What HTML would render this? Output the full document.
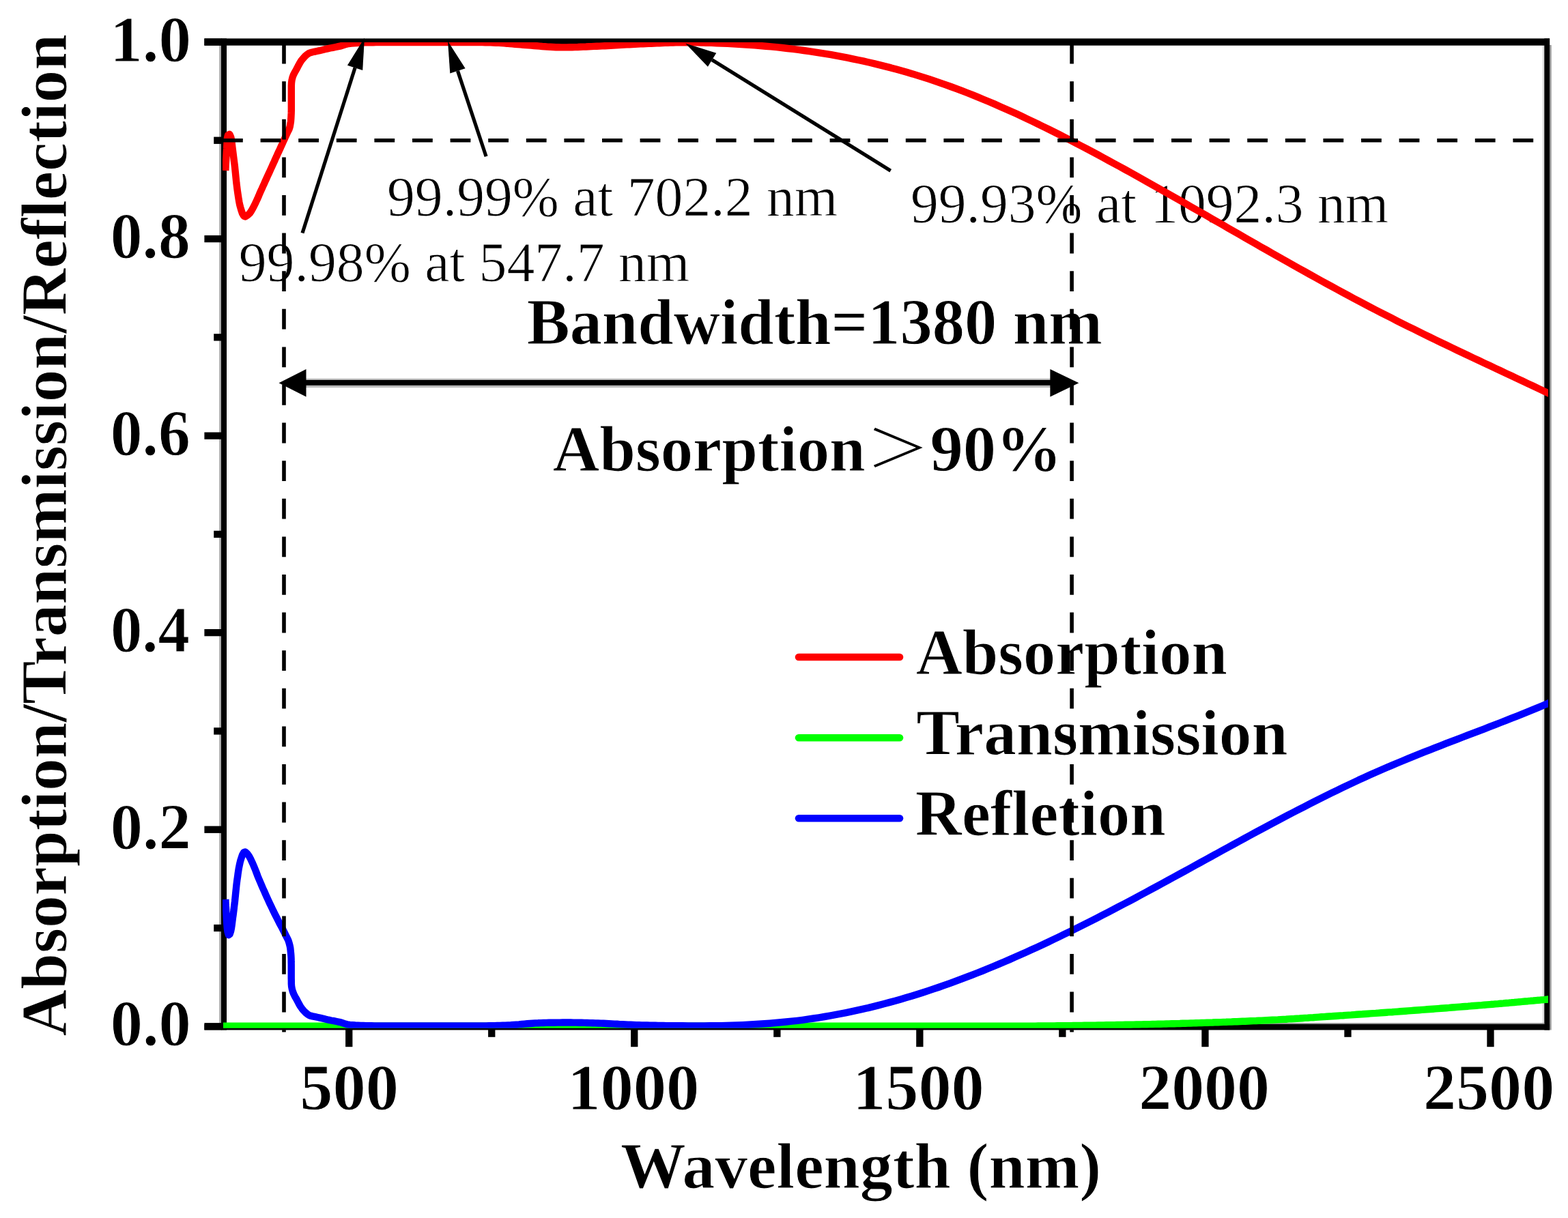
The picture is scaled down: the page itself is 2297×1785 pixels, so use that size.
<!DOCTYPE html>
<html lang="en"><head><meta charset="utf-8"><title>Absorption / Transmission / Reflection spectrum</title>
<style>
html,body{margin:0;padding:0;background:#fff;}
body{width:2297px;height:1785px;overflow:hidden;}
svg{display:block;}
text{font-family:"Liberation Serif","Noto Serif CJK SC",serif;fill:#000;}
.b{font-weight:bold;font-size:94.6px;stroke:#fff;stroke-width:1px;}
.r{font-weight:normal;font-size:82.3px;stroke:#fff;stroke-width:0.9px;}
.gt{font-family:"Noto Serif CJK SC","Liberation Serif",serif;font-weight:700;font-size:94.6px;}
</style></head><body>
<svg xmlns="http://www.w3.org/2000/svg" width="2297" height="1785" viewBox="0 0 2297 1785">
<rect width="2297" height="1785" fill="#fff"/>
<defs><clipPath id="plot"><rect x="326" y="62" width="1942" height="1444.8"/></clipPath></defs>

<g fill="#000">
<rect x="321.2" y="66" width="3" height="1434" fill="#aaa"/>
<rect x="331.8" y="66.5" width="2.4" height="1433" fill="#eee"/>
<rect x="2270" y="66" width="2.7" height="1443.5" fill="#999"/>
<rect x="2259.6" y="66.5" width="2.8" height="1433" fill="#ddd"/>
<rect x="332" y="1499.2" width="1930" height="2" fill="#888"/>
<rect x="324" y="56.4" width="8" height="1453.1"/>
<rect x="2262.3" y="56.4" width="7.8" height="1453.1"/>
<rect x="299.4" y="56.4" width="1970.7" height="10.3"/>
<rect x="299.4" y="1501.0" width="1970.7" height="8.5"/>
<rect x="299.4" y="1499.1" width="25.6" height="10.3"/>
<rect x="313.2" y="1354.9" width="11.8" height="10.3"/>
<rect x="299.4" y="1210.6" width="25.6" height="10.3"/>
<rect x="313.2" y="1066.3" width="11.8" height="10.3"/>
<rect x="299.4" y="922.0" width="25.6" height="10.3"/>
<rect x="313.2" y="777.8" width="11.8" height="10.3"/>
<rect x="299.4" y="633.5" width="25.6" height="10.3"/>
<rect x="313.2" y="489.2" width="11.8" height="10.3"/>
<rect x="299.4" y="344.9" width="25.6" height="10.3"/>
<rect x="313.2" y="200.6" width="11.8" height="10.3"/>
<rect x="299.4" y="56.4" width="25.6" height="10.3"/>
<rect x="506.1" y="1505" width="10.3" height="29.2"/>
<rect x="715.1" y="1505" width="10.3" height="14.8"/>
<rect x="924.1" y="1505" width="10.3" height="29.2"/>
<rect x="1133.2" y="1505" width="10.3" height="14.8"/>
<rect x="1342.2" y="1505" width="10.3" height="29.2"/>
<rect x="1551.2" y="1505" width="10.3" height="14.8"/>
<rect x="1760.3" y="1505" width="10.3" height="29.2"/>
<rect x="1969.3" y="1505" width="10.3" height="14.8"/>
<rect x="2178.3" y="1505" width="10.3" height="29.2"/>
</g>
<text class="r" transform="translate(567.02 315.6) scale(0.9929 1)">99.99% at 702.2 nm</text>
<text class="r" transform="translate(349.72 411.9) scale(0.9933 1)">99.98% at 547.7 nm</text>
<text class="r" transform="translate(1334.03 326.4) scale(0.9914 1)">99.93% at 1092.3 nm</text>
<text class="b" transform="translate(1341.70 988.4) scale(0.9978 1)">Absorption</text>
<text class="b" transform="translate(1342.28 1106.0) scale(1.0088 1)">Transmission</text>
<text class="b" transform="translate(1340.70 1223.5) scale(0.9981 1)">Refletion</text>
<text class="b" transform="translate(909.08 1741.3) scale(1.0113 1)">Wavelength (nm)</text>
<text class="b" transform="translate(771.70 504.3) scale(0.9977 1)">Bandwidth=1380 nm</text>
<text class="b" transform="translate(439.22 1625.7) scale(1.0201 1)">500</text>
<text class="b" transform="translate(831.13 1625.7) scale(1.0209 1)">1000</text>
<text class="b" transform="translate(1249.16 1625.7) scale(1.0181 1)">1500</text>
<text class="b" transform="translate(1668.25 1625.7) scale(1.0133 1)">2000</text>
<text class="b" transform="translate(2084.93 1625.7) scale(1.0166 1)">2500</text>
<text class="b" transform="translate(809.80 689.8) scale(1.0015 1)">Absorption</text>
<text class="b" transform="translate(1362.44 689.8) scale(1.0209 1)">90%</text>
<text class="b" transform="translate(161.81 1532.4) scale(0.9982 1)">0.0</text>
<text class="b" transform="translate(161.81 1243.8) scale(0.9982 1)">0.2</text>
<text class="b" transform="translate(161.88 955.3) scale(0.9804 1)">0.4</text>
<text class="b" transform="translate(161.84 666.7) scale(0.9892 1)">0.6</text>
<text class="b" transform="translate(161.84 378.2) scale(0.9892 1)">0.8</text>
<text class="b" transform="translate(161.17 89.6) scale(1.0038 1)">1.0</text>
<g clip-path="url(#plot)" fill="none" stroke-linejoin="round" stroke-linecap="butt">
<path d="M327.0,1503.8 L331.0,1503.8 L335.0,1503.8 L339.0,1503.8 L343.0,1503.8 L347.0,1503.8 L351.0,1503.8 L354.9,1503.8 L358.9,1503.8 L362.9,1503.8 L366.9,1503.8 L370.9,1503.8 L374.9,1503.8 L378.9,1503.8 L382.9,1503.8 L386.9,1503.8 L390.9,1503.8 L394.9,1503.8 L398.9,1503.8 L402.9,1503.8 L406.9,1503.8 L410.8,1503.8 L414.8,1503.8 L418.8,1503.8 L422.8,1503.8 L426.8,1503.8 L430.8,1503.8 L434.8,1503.8 L438.8,1503.8 L442.8,1503.8 L446.8,1503.8 L450.8,1503.8 L454.8,1503.8 L458.8,1503.8 L462.7,1503.8 L466.7,1503.8 L470.7,1503.8 L474.7,1503.8 L478.7,1503.8 L482.7,1503.8 L486.7,1503.8 L490.7,1503.8 L494.7,1503.8 L498.7,1503.8 L502.7,1503.8 L506.7,1503.8 L510.7,1503.8 L514.7,1503.8 L518.6,1503.8 L522.6,1503.8 L526.6,1503.8 L530.6,1503.8 L534.6,1503.8 L538.6,1503.8 L542.6,1503.8 L546.6,1503.8 L550.6,1503.8 L554.6,1503.8 L558.6,1503.8 L562.6,1503.8 L566.6,1503.8 L570.5,1503.8 L574.5,1503.8 L578.5,1503.8 L582.5,1503.8 L586.5,1503.8 L590.5,1503.8 L594.5,1503.8 L598.5,1503.8 L602.5,1503.8 L606.5,1503.8 L610.5,1503.8 L614.5,1503.8 L618.5,1503.8 L622.4,1503.8 L626.4,1503.8 L630.4,1503.8 L634.4,1503.8 L638.4,1503.8 L642.4,1503.8 L646.4,1503.8 L650.4,1503.8 L654.4,1503.8 L658.4,1503.8 L662.4,1503.8 L666.4,1503.8 L670.4,1503.8 L674.3,1503.8 L678.3,1503.8 L682.3,1503.8 L686.3,1503.8 L690.3,1503.8 L694.3,1503.8 L698.3,1503.8 L702.3,1503.8 L706.3,1503.8 L710.3,1503.8 L714.3,1503.8 L718.3,1503.8 L722.3,1503.8 L726.3,1503.8 L730.2,1503.8 L734.2,1503.8 L738.2,1503.8 L742.2,1503.8 L746.2,1503.8 L750.2,1503.8 L754.2,1503.8 L758.2,1503.8 L762.2,1503.8 L766.2,1503.8 L770.2,1503.8 L774.2,1503.8 L778.2,1503.8 L782.1,1503.8 L786.1,1503.8 L790.1,1503.8 L794.1,1503.8 L798.1,1503.8 L802.1,1503.8 L806.1,1503.8 L810.1,1503.8 L814.1,1503.8 L818.1,1503.8 L822.1,1503.8 L826.1,1503.8 L830.1,1503.8 L834.0,1503.8 L838.0,1503.8 L842.0,1503.8 L846.0,1503.8 L850.0,1503.8 L854.0,1503.8 L858.0,1503.8 L862.0,1503.8 L866.0,1503.8 L870.0,1503.8 L874.0,1503.8 L878.0,1503.8 L882.0,1503.8 L885.9,1503.8 L889.9,1503.8 L893.9,1503.8 L897.9,1503.8 L901.9,1503.8 L905.9,1503.8 L909.9,1503.8 L913.9,1503.8 L917.9,1503.8 L921.9,1503.8 L925.9,1503.8 L929.9,1503.8 L933.9,1503.8 L937.8,1503.8 L941.8,1503.8 L945.8,1503.8 L949.8,1503.8 L953.8,1503.8 L957.8,1503.8 L961.8,1503.8 L965.8,1503.8 L969.8,1503.8 L973.8,1503.8 L977.8,1503.8 L981.8,1503.8 L985.8,1503.8 L989.7,1503.8 L993.7,1503.8 L997.7,1503.8 L1001.7,1503.8 L1005.7,1503.8 L1009.7,1503.8 L1013.7,1503.7 L1017.7,1503.7 L1021.7,1503.7 L1025.7,1503.7 L1029.7,1503.7 L1033.7,1503.7 L1037.7,1503.7 L1041.6,1503.7 L1045.6,1503.7 L1049.6,1503.7 L1053.6,1503.7 L1057.6,1503.7 L1061.6,1503.7 L1065.6,1503.7 L1069.6,1503.7 L1073.6,1503.7 L1077.6,1503.7 L1081.6,1503.7 L1085.6,1503.7 L1089.6,1503.7 L1093.5,1503.7 L1097.5,1503.7 L1101.5,1503.7 L1105.5,1503.7 L1109.5,1503.7 L1113.5,1503.7 L1117.5,1503.7 L1121.5,1503.7 L1125.5,1503.7 L1129.5,1503.7 L1133.5,1503.7 L1137.5,1503.7 L1141.5,1503.7 L1145.4,1503.7 L1149.4,1503.7 L1153.4,1503.7 L1157.4,1503.7 L1161.4,1503.7 L1165.4,1503.7 L1169.4,1503.7 L1173.4,1503.7 L1177.4,1503.7 L1181.4,1503.7 L1185.4,1503.7 L1189.4,1503.7 L1193.4,1503.7 L1197.3,1503.7 L1201.3,1503.7 L1205.3,1503.7 L1209.3,1503.7 L1213.3,1503.7 L1217.3,1503.7 L1221.3,1503.7 L1225.3,1503.7 L1229.3,1503.7 L1233.3,1503.7 L1237.3,1503.7 L1241.3,1503.7 L1245.3,1503.7 L1249.2,1503.7 L1253.2,1503.7 L1257.2,1503.7 L1261.2,1503.7 L1265.2,1503.7 L1269.2,1503.7 L1273.2,1503.7 L1277.2,1503.7 L1281.2,1503.7 L1285.2,1503.7 L1289.2,1503.7 L1293.2,1503.7 L1297.2,1503.7 L1301.1,1503.7 L1305.1,1503.7 L1309.1,1503.7 L1313.1,1503.7 L1317.1,1503.7 L1321.1,1503.7 L1325.1,1503.7 L1329.1,1503.7 L1333.1,1503.7 L1337.1,1503.7 L1341.1,1503.7 L1345.1,1503.7 L1349.1,1503.7 L1353.0,1503.7 L1357.0,1503.7 L1361.0,1503.7 L1365.0,1503.7 L1369.0,1503.7 L1373.0,1503.7 L1377.0,1503.7 L1381.0,1503.6 L1385.0,1503.6 L1389.0,1503.6 L1393.0,1503.6 L1397.0,1503.6 L1400.9,1503.6 L1404.9,1503.6 L1408.9,1503.6 L1412.9,1503.6 L1416.9,1503.6 L1420.9,1503.6 L1424.9,1503.6 L1428.9,1503.6 L1432.9,1503.6 L1436.9,1503.6 L1440.9,1503.6 L1444.9,1503.6 L1448.9,1503.6 L1452.8,1503.6 L1456.8,1503.6 L1460.8,1503.6 L1464.8,1503.6 L1468.8,1503.6 L1472.8,1503.6 L1476.8,1503.6 L1480.8,1503.6 L1484.8,1503.6 L1488.8,1503.6 L1492.8,1503.6 L1496.8,1503.6 L1500.8,1503.6 L1504.7,1503.6 L1508.7,1503.6 L1512.7,1503.6 L1516.7,1503.6 L1520.7,1503.5 L1524.7,1503.5 L1528.7,1503.5 L1532.7,1503.5 L1536.7,1503.4 L1540.7,1503.4 L1544.7,1503.4 L1548.7,1503.3 L1552.7,1503.3 L1556.6,1503.2 L1560.6,1503.2 L1564.6,1503.1 L1568.6,1503.1 L1572.6,1503.0 L1576.6,1503.0 L1580.6,1502.9 L1584.6,1502.9 L1588.6,1502.8 L1592.6,1502.7 L1596.6,1502.7 L1600.6,1502.6 L1604.6,1502.6 L1608.5,1502.5 L1612.5,1502.4 L1616.5,1502.4 L1620.5,1502.3 L1624.5,1502.2 L1628.5,1502.2 L1632.5,1502.1 L1636.5,1502.0 L1640.5,1502.0 L1644.5,1501.9 L1648.5,1501.8 L1652.5,1501.8 L1656.4,1501.7 L1660.4,1501.6 L1664.4,1501.5 L1668.4,1501.5 L1672.4,1501.4 L1676.4,1501.3 L1680.4,1501.2 L1684.4,1501.1 L1688.4,1501.0 L1692.4,1500.9 L1696.4,1500.8 L1700.4,1500.7 L1704.3,1500.6 L1708.3,1500.5 L1712.3,1500.4 L1716.3,1500.3 L1720.3,1500.2 L1724.3,1500.1 L1728.3,1500.0 L1732.3,1499.8 L1736.3,1499.7 L1740.3,1499.6 L1744.3,1499.5 L1748.2,1499.4 L1752.2,1499.2 L1756.2,1499.1 L1760.2,1499.0 L1764.2,1498.9 L1768.2,1498.7 L1772.2,1498.6 L1776.2,1498.5 L1780.2,1498.3 L1784.2,1498.2 L1788.1,1498.1 L1792.1,1497.9 L1796.1,1497.8 L1800.1,1497.6 L1804.1,1497.5 L1808.1,1497.3 L1812.1,1497.2 L1816.1,1497.0 L1820.1,1496.8 L1824.0,1496.7 L1828.0,1496.5 L1832.0,1496.3 L1836.0,1496.1 L1840.0,1496.0 L1844.0,1495.8 L1848.0,1495.6 L1852.0,1495.4 L1856.0,1495.2 L1859.9,1495.0 L1863.9,1494.8 L1867.9,1494.6 L1871.9,1494.4 L1875.9,1494.1 L1879.9,1493.9 L1883.9,1493.7 L1887.8,1493.4 L1891.8,1493.2 L1895.8,1493.0 L1899.8,1492.7 L1903.8,1492.5 L1907.8,1492.2 L1911.7,1491.9 L1915.7,1491.7 L1919.7,1491.4 L1923.7,1491.2 L1927.7,1490.9 L1931.7,1490.6 L1935.7,1490.3 L1939.6,1490.1 L1943.6,1489.8 L1947.6,1489.5 L1951.6,1489.3 L1955.6,1489.0 L1959.6,1488.7 L1963.5,1488.4 L1967.5,1488.2 L1971.5,1487.9 L1975.5,1487.6 L1979.5,1487.4 L1983.5,1487.1 L1987.4,1486.8 L1991.4,1486.5 L1995.4,1486.3 L1999.4,1486.0 L2003.4,1485.7 L2007.3,1485.4 L2011.3,1485.1 L2015.3,1484.9 L2019.3,1484.6 L2023.3,1484.3 L2027.3,1484.0 L2031.2,1483.7 L2035.2,1483.4 L2039.2,1483.2 L2043.2,1482.9 L2047.2,1482.6 L2051.2,1482.3 L2055.1,1482.0 L2059.1,1481.7 L2063.1,1481.4 L2067.1,1481.1 L2071.1,1480.8 L2075.0,1480.5 L2079.0,1480.2 L2083.0,1479.9 L2087.0,1479.6 L2091.0,1479.3 L2094.9,1479.0 L2098.9,1478.7 L2102.9,1478.4 L2106.9,1478.1 L2110.9,1477.8 L2114.9,1477.5 L2118.8,1477.2 L2122.8,1476.9 L2126.8,1476.5 L2130.8,1476.2 L2134.8,1475.9 L2138.7,1475.6 L2142.7,1475.3 L2146.7,1475.0 L2150.7,1474.7 L2154.7,1474.3 L2158.6,1474.0 L2162.6,1473.7 L2166.6,1473.4 L2170.6,1473.1 L2174.5,1472.7 L2178.5,1472.4 L2182.5,1472.1 L2186.5,1471.8 L2190.5,1471.4 L2194.4,1471.1 L2198.4,1470.7 L2202.4,1470.4 L2206.4,1470.0 L2210.3,1469.7 L2214.3,1469.3 L2218.3,1469.0 L2222.3,1468.6 L2226.3,1468.3 L2230.2,1467.9 L2234.2,1467.5 L2238.2,1467.2 L2242.2,1466.8 L2246.1,1466.5 L2250.1,1466.1 L2254.1,1465.8 L2258.1,1465.4 L2262.0,1465.1 L2266.0,1464.7 L2270.0,1464.4" stroke="#00ff00" stroke-width="10.4"/>
<path d="M330.3,250.0 L330.5,246.0 L330.7,242.0 L331.0,238.0 L331.2,234.0 L331.4,230.0 L331.6,226.1 L331.8,222.1 L332.1,218.1 L332.3,214.1 L332.5,210.0 L332.7,205.9 L333.0,202.0 L334.0,198.0 L336.3,196.7 L338.2,200.9 L339.1,204.7 L339.6,208.7 L340.0,212.7 L340.5,216.7 L341.0,220.7 L341.5,224.7 L342.0,228.6 L342.5,232.6 L343.0,236.6 L343.5,240.5 L344.0,244.5 L344.4,248.5 L344.8,252.4 L345.2,256.4 L345.6,260.4 L346.0,264.4 L346.4,268.4 L346.9,272.3 L347.4,276.3 L347.9,280.2 L348.5,284.2 L349.1,288.2 L349.7,292.2 L350.4,296.2 L351.2,300.1 L352.2,303.9 L353.4,308.0 L355.0,312.7 L357.0,316.4 L359.3,317.4 L362.9,315.3 L365.9,312.5 L368.1,309.3 L370.1,305.7 L372.0,302.1 L373.8,298.5 L375.5,294.9 L377.2,291.3 L378.8,287.6 L380.3,283.9 L381.9,280.2 L383.6,276.6 L385.2,273.0 L386.9,269.3 L388.5,265.7 L390.2,262.0 L391.8,258.4 L393.5,254.8 L395.2,251.1 L396.8,247.5 L398.5,243.8 L400.1,240.2 L401.8,236.6 L403.4,232.9 L405.1,229.3 L406.7,225.7 L408.4,222.0 L410.1,218.4 L411.7,214.7 L413.4,211.1 L415.0,207.5 L416.7,203.8 L418.3,200.2 L420.0,196.6 L421.7,192.9 L423.5,189.3 L424.7,185.6 L425.4,181.6 L426.0,177.7 L426.3,173.7 L426.5,169.7 L426.7,165.7 L426.8,161.7 L426.8,157.7 L426.8,153.7 L426.8,149.7 L426.8,145.7 L426.8,141.7 L426.8,137.7 L426.8,133.7 L426.8,129.7 L426.8,125.7 L427.0,121.7 L427.5,117.7 L428.4,113.8 L429.7,110.1 L431.5,106.5 L433.5,103.0 L435.4,99.5 L437.2,95.9 L439.1,92.4 L441.2,89.0 L443.7,85.9 L446.4,82.9 L449.3,80.2 L452.6,77.9 L456.4,76.7 L460.3,75.8 L464.2,75.0 L468.1,74.2 L472.0,73.3 L475.9,72.3 L479.8,71.4 L483.7,70.5 L487.6,69.8 L491.6,69.0 L495.5,68.2 L499.4,67.4 L503.2,66.1 L507.0,64.8 L510.9,64.0 L514.8,63.6 L518.8,63.3 L522.8,63.1 L526.8,62.8 L530.8,62.4 L534.8,62.2 L538.8,62.2 L542.8,62.2 L546.8,62.2 L550.8,62.1 L554.8,62.1 L558.8,62.1 L562.8,62.1 L566.8,62.1 L570.8,62.1 L574.8,62.1 L578.7,62.1 L582.7,62.1 L586.7,62.1 L590.7,62.1 L594.7,62.1 L598.7,62.1 L602.7,62.1 L606.7,62.1 L610.7,62.1 L614.7,62.1 L618.7,62.1 L622.7,62.1 L626.7,62.1 L630.7,62.1 L634.7,62.1 L638.7,62.1 L642.7,62.1 L646.7,62.1 L650.7,62.1 L654.7,62.1 L658.7,62.1 L662.7,62.1 L666.7,62.1 L670.7,62.1 L674.7,62.1 L678.7,62.1 L682.7,62.1 L686.7,62.1 L690.7,62.1 L694.7,62.1 L698.7,62.1 L702.7,62.1 L706.7,62.1 L710.7,62.2 L714.7,62.3 L718.6,62.4 L722.6,62.5 L726.6,62.7 L730.6,62.9 L734.6,63.1 L738.6,63.4 L742.6,63.7 L746.6,64.1 L750.6,64.4 L754.5,64.8 L758.5,65.1 L762.5,65.4 L766.5,65.7 L770.5,66.0 L774.5,66.3 L778.5,66.6 L782.4,67.0 L786.4,67.3 L790.4,67.6 L794.4,68.0 L798.4,68.3 L802.4,68.6 L806.4,68.8 L810.4,69.0 L814.4,69.2 L818.3,69.3 L822.3,69.4 L826.3,69.4 L830.3,69.4 L834.3,69.3 L838.3,69.2 L842.3,69.1 L846.3,69.0 L850.3,68.8 L854.3,68.6 L858.3,68.5 L862.3,68.3 L866.3,68.1 L870.3,67.9 L874.3,67.7 L878.3,67.6 L882.3,67.4 L886.2,67.2 L890.2,67.0 L894.2,66.8 L898.2,66.6 L902.2,66.4 L906.2,66.1 L910.2,65.9 L914.2,65.6 L918.2,65.4 L922.2,65.2 L926.2,65.0 L930.1,64.8 L934.1,64.6 L938.1,64.4 L942.1,64.2 L946.1,64.0 L950.1,63.9 L954.1,63.7 L958.1,63.5 L962.1,63.3 L966.1,63.2 L970.1,63.0 L974.1,62.8 L978.1,62.7 L982.1,62.6 L986.1,62.5 L990.1,62.4 L994.1,62.3 L998.0,62.3 L1002.0,62.3 L1006.0,62.3 L1010.0,62.3 L1014.0,62.4 L1018.0,62.4 L1022.0,62.4 L1026.0,62.5 L1030.0,62.6 L1034.0,62.7 L1038.0,62.8 L1042.0,62.9 L1046.0,63.0 L1050.0,63.2 L1058.0,63.5 L1065.9,63.9 L1073.9,64.3 L1081.9,64.7 L1089.9,65.2 L1097.8,65.7 L1105.8,66.3 L1113.8,67.0 L1121.8,67.7 L1129.7,68.4 L1137.7,69.2 L1145.7,70.0 L1153.7,71.0 L1161.6,71.9 L1169.6,72.9 L1177.6,74.0 L1185.6,75.1 L1193.5,76.3 L1201.5,77.6 L1209.5,78.9 L1217.5,80.2 L1225.4,81.7 L1233.4,83.2 L1241.4,84.7 L1249.3,86.3 L1257.3,88.0 L1265.3,89.7 L1273.3,91.5 L1281.2,93.4 L1289.2,95.4 L1297.2,97.4 L1305.2,99.4 L1313.1,101.6 L1321.1,103.8 L1329.1,106.1 L1337.1,108.4 L1345.0,110.9 L1353.0,113.4 L1361.0,115.9 L1369.0,118.6 L1376.9,121.3 L1384.9,124.1 L1392.9,127.0 L1400.8,129.9 L1408.8,132.9 L1416.8,136.0 L1424.8,139.2 L1432.7,142.4 L1440.7,145.7 L1448.7,149.0 L1456.7,152.4 L1464.6,155.9 L1472.6,159.4 L1480.6,163.0 L1488.6,166.6 L1496.5,170.3 L1504.5,174.1 L1512.5,177.9 L1520.5,181.7 L1528.4,185.6 L1536.4,189.5 L1544.4,193.5 L1552.4,197.5 L1560.3,201.6 L1568.3,205.7 L1576.3,209.8 L1584.2,214.0 L1592.2,218.2 L1600.2,222.4 L1608.2,226.7 L1616.1,231.0 L1624.1,235.3 L1632.1,239.7 L1640.1,244.0 L1648.0,248.4 L1656.0,252.8 L1664.0,257.3 L1672.0,261.7 L1679.9,266.2 L1687.9,270.7 L1695.9,275.2 L1703.9,279.7 L1711.8,284.2 L1719.8,288.7 L1727.8,293.3 L1735.8,297.8 L1743.7,302.4 L1751.7,307.0 L1759.7,311.5 L1767.6,316.1 L1775.6,320.7 L1783.6,325.3 L1791.6,329.8 L1799.5,334.4 L1807.5,339.0 L1815.5,343.6 L1823.5,348.2 L1831.4,352.7 L1839.4,357.3 L1847.4,361.9 L1855.4,366.4 L1863.3,370.9 L1871.3,375.5 L1879.3,380.0 L1887.3,384.5 L1895.2,389.0 L1903.2,393.5 L1911.2,397.9 L1919.2,402.4 L1927.1,406.8 L1935.1,411.2 L1943.1,415.6 L1951.0,419.9 L1959.0,424.3 L1967.0,428.6 L1975.0,432.9 L1982.9,437.2 L1990.9,441.4 L1998.9,445.6 L2006.9,449.8 L2014.8,454.0 L2022.8,458.1 L2030.8,462.2 L2038.8,466.2 L2046.7,470.3 L2054.7,474.3 L2062.7,478.3 L2070.7,482.2 L2078.6,486.2 L2086.6,490.1 L2094.6,494.0 L2102.5,497.9 L2110.5,501.7 L2118.5,505.5 L2126.5,509.4 L2134.4,513.2 L2142.4,517.0 L2150.4,520.8 L2158.4,524.6 L2166.3,528.3 L2174.3,532.1 L2182.3,535.8 L2190.3,539.6 L2198.2,543.3 L2206.2,547.1 L2214.2,550.8 L2222.2,554.6 L2230.1,558.3 L2238.1,562.1 L2246.1,565.8 L2254.1,569.6 L2262.0,573.4 L2270.0,577.1" stroke="#ff0000" stroke-width="10.4"/>
<path d="M330.3,1318.0 L330.5,1322.0 L330.7,1326.0 L331.0,1330.0 L331.2,1334.0 L331.4,1338.0 L331.6,1342.0 L331.8,1346.0 L332.0,1349.9 L332.3,1353.9 L332.6,1357.9 L333.0,1361.9 L333.6,1365.9 L334.9,1370.3 L336.6,1369.1 L338.1,1364.6 L338.9,1360.8 L339.5,1356.8 L340.0,1352.8 L340.5,1348.8 L341.0,1344.9 L341.6,1340.9 L342.1,1336.9 L342.6,1333.0 L343.0,1329.0 L343.5,1325.0 L344.0,1321.1 L344.4,1317.1 L344.8,1313.1 L345.2,1309.1 L345.6,1305.1 L346.0,1301.2 L346.4,1297.2 L346.9,1293.2 L347.4,1289.2 L348.0,1285.3 L348.5,1281.3 L349.1,1277.3 L349.7,1273.3 L350.5,1269.3 L351.3,1265.4 L352.2,1261.6 L353.5,1257.5 L355.1,1252.8 L357.1,1249.2 L359.4,1248.4 L362.4,1251.3 L364.9,1254.8 L366.8,1258.2 L368.5,1261.9 L370.2,1265.5 L371.8,1269.2 L373.3,1272.9 L374.8,1276.6 L376.2,1280.4 L377.6,1284.1 L379.1,1287.8 L380.7,1291.5 L382.3,1295.2 L383.8,1298.9 L385.4,1302.5 L387.1,1306.2 L388.7,1309.8 L390.3,1313.5 L392.0,1317.1 L393.7,1320.8 L395.3,1324.4 L397.1,1328.0 L398.8,1331.6 L400.5,1335.2 L402.3,1338.8 L404.1,1342.4 L405.9,1345.9 L407.7,1349.5 L409.5,1353.0 L411.4,1356.6 L413.3,1360.1 L415.1,1363.7 L416.9,1367.2 L418.7,1370.8 L420.5,1374.4 L422.3,1378.0 L423.5,1381.8 L424.5,1385.6 L425.3,1389.6 L425.7,1393.5 L426.1,1397.5 L426.4,1401.5 L426.6,1405.5 L426.6,1409.5 L426.7,1413.5 L426.7,1417.5 L426.7,1421.5 L426.7,1425.5 L426.7,1429.5 L426.7,1433.5 L426.8,1437.5 L426.8,1441.5 L427.1,1445.5 L427.8,1449.4 L428.9,1453.3 L430.4,1457.0 L432.2,1460.6 L434.2,1464.0 L436.1,1467.6 L437.9,1471.1 L439.9,1474.6 L442.2,1477.9 L444.7,1481.0 L447.5,1483.9 L450.6,1486.4 L454.0,1488.4 L457.9,1489.4 L461.8,1490.2 L465.7,1491.0 L469.6,1491.9 L473.5,1492.8 L477.4,1493.8 L481.3,1494.7 L485.2,1495.5 L489.1,1496.2 L493.1,1497.0 L497.0,1497.8 L500.9,1498.8 L504.7,1500.1 L508.5,1501.3 L512.4,1501.9 L516.4,1502.2 L520.4,1502.5 L524.4,1502.7 L528.4,1502.9 L532.4,1503.0 L536.4,1503.1 L540.4,1503.2 L544.4,1503.3 L548.4,1503.4 L552.4,1503.5 L556.4,1503.5 L560.4,1503.5 L564.4,1503.5 L568.4,1503.5 L572.4,1503.5 L576.4,1503.5 L580.4,1503.5 L584.4,1503.5 L588.4,1503.5 L592.4,1503.5 L596.4,1503.5 L600.4,1503.5 L604.4,1503.5 L608.4,1503.5 L612.4,1503.5 L616.3,1503.5 L620.3,1503.5 L624.3,1503.5 L628.3,1503.5 L632.3,1503.5 L636.3,1503.5 L640.3,1503.5 L644.3,1503.5 L648.3,1503.5 L652.3,1503.5 L656.3,1503.5 L660.3,1503.5 L664.3,1503.5 L668.3,1503.5 L672.3,1503.5 L676.3,1503.5 L680.3,1503.5 L684.3,1503.5 L688.3,1503.5 L692.3,1503.5 L696.3,1503.5 L700.3,1503.5 L704.3,1503.5 L708.3,1503.5 L712.3,1503.4 L716.3,1503.3 L720.3,1503.2 L724.3,1503.1 L728.3,1503.0 L732.3,1502.9 L736.3,1502.8 L740.3,1502.7 L744.3,1502.5 L748.3,1502.3 L752.3,1502.0 L756.3,1501.7 L760.2,1501.4 L764.2,1501.0 L768.2,1500.6 L772.2,1500.3 L776.2,1500.0 L780.2,1499.7 L784.2,1499.4 L788.2,1499.3 L792.2,1499.1 L796.2,1499.0 L800.1,1498.9 L804.1,1498.8 L808.1,1498.8 L812.1,1498.7 L816.1,1498.6 L820.1,1498.6 L824.1,1498.5 L828.1,1498.5 L832.1,1498.5 L836.1,1498.5 L840.1,1498.6 L844.1,1498.6 L848.1,1498.7 L852.1,1498.8 L856.1,1498.9 L860.1,1499.0 L864.1,1499.1 L868.1,1499.2 L872.1,1499.4 L876.1,1499.5 L880.1,1499.6 L884.1,1499.8 L888.1,1500.0 L892.1,1500.2 L896.1,1500.4 L900.1,1500.6 L904.1,1500.8 L908.1,1501.1 L912.1,1501.3 L916.1,1501.5 L920.0,1501.7 L924.0,1501.8 L928.0,1502.0 L932.0,1502.2 L936.0,1502.3 L940.0,1502.4 L944.0,1502.5 L948.0,1502.5 L952.0,1502.6 L956.0,1502.7 L960.0,1502.8 L964.0,1502.9 L968.0,1503.0 L972.0,1503.0 L976.0,1503.1 L980.0,1503.1 L984.0,1503.2 L988.0,1503.2 L992.0,1503.3 L996.0,1503.3 L1000.0,1503.3 L1008.0,1503.4 L1016.0,1503.4 L1024.0,1503.4 L1031.9,1503.4 L1039.9,1503.3 L1047.9,1503.2 L1055.9,1503.1 L1063.9,1502.9 L1071.9,1502.7 L1079.9,1502.4 L1087.9,1502.1 L1095.8,1501.7 L1103.8,1501.3 L1111.8,1500.8 L1119.8,1500.3 L1127.8,1499.7 L1135.8,1499.0 L1143.8,1498.3 L1151.8,1497.5 L1159.7,1496.7 L1167.7,1495.8 L1175.7,1494.8 L1183.7,1493.7 L1191.7,1492.5 L1199.7,1491.3 L1207.7,1490.0 L1215.7,1488.6 L1223.6,1487.2 L1231.6,1485.7 L1239.6,1484.1 L1247.6,1482.4 L1255.6,1480.7 L1263.6,1478.9 L1271.6,1477.1 L1279.6,1475.1 L1287.5,1473.1 L1295.5,1471.0 L1303.5,1468.9 L1311.5,1466.7 L1319.5,1464.4 L1327.5,1462.1 L1335.5,1459.7 L1343.5,1457.2 L1351.4,1454.7 L1359.4,1452.1 L1367.4,1449.4 L1375.4,1446.7 L1383.4,1443.9 L1391.4,1441.1 L1399.4,1438.2 L1407.4,1435.2 L1415.3,1432.2 L1423.3,1429.1 L1431.3,1426.0 L1439.3,1422.8 L1447.3,1419.5 L1455.3,1416.2 L1463.3,1412.9 L1471.3,1409.5 L1479.2,1406.1 L1487.2,1402.6 L1495.2,1399.0 L1503.2,1395.5 L1511.2,1391.8 L1519.2,1388.2 L1527.2,1384.5 L1535.2,1380.7 L1543.1,1376.9 L1551.1,1373.1 L1559.1,1369.2 L1567.1,1365.3 L1575.1,1361.4 L1583.1,1357.4 L1591.1,1353.4 L1599.1,1349.4 L1607.0,1345.3 L1615.0,1341.2 L1623.0,1337.1 L1631.0,1332.9 L1639.0,1328.7 L1647.0,1324.5 L1655.0,1320.3 L1663.0,1316.1 L1670.9,1311.8 L1678.9,1307.5 L1686.9,1303.2 L1694.9,1298.9 L1702.9,1294.5 L1710.9,1290.2 L1718.9,1285.8 L1726.9,1281.4 L1734.8,1277.1 L1742.8,1272.7 L1750.8,1268.3 L1758.8,1263.9 L1766.8,1259.5 L1774.8,1255.1 L1782.8,1250.7 L1790.8,1246.3 L1798.7,1242.0 L1806.7,1237.6 L1814.7,1233.2 L1822.7,1228.9 L1830.7,1224.5 L1838.7,1220.2 L1846.7,1215.9 L1854.7,1211.6 L1862.6,1207.4 L1870.6,1203.1 L1878.6,1198.9 L1886.6,1194.7 L1894.6,1190.5 L1902.6,1186.4 L1910.6,1182.3 L1918.6,1178.2 L1926.5,1174.1 L1934.5,1170.1 L1942.5,1166.1 L1950.5,1162.2 L1958.5,1158.3 L1966.5,1154.4 L1974.5,1150.6 L1982.5,1146.9 L1990.4,1143.1 L1998.4,1139.5 L2006.4,1135.8 L2014.4,1132.3 L2022.4,1128.8 L2030.4,1125.3 L2038.4,1121.9 L2046.4,1118.5 L2054.3,1115.2 L2062.3,1111.9 L2070.3,1108.6 L2078.3,1105.4 L2086.3,1102.2 L2094.3,1099.1 L2102.3,1095.9 L2110.3,1092.8 L2118.2,1089.7 L2126.2,1086.6 L2134.2,1083.6 L2142.2,1080.5 L2150.2,1077.4 L2158.2,1074.4 L2166.2,1071.3 L2174.2,1068.3 L2182.1,1065.2 L2190.1,1062.1 L2198.1,1059.0 L2206.1,1055.9 L2214.1,1052.7 L2222.1,1049.6 L2230.1,1046.4 L2238.1,1043.2 L2246.0,1039.9 L2254.0,1036.6 L2262.0,1033.3 L2270.0,1029.9" stroke="#0000ff" stroke-width="10.4"/>
</g>
<g stroke="#000" stroke-width="5.6" fill="none" stroke-dasharray="29.8 25.8">
<line x1="326" y1="205.7" x2="2262" y2="205.7"/>
<line x1="416" y1="63.6" x2="416" y2="1512.5"/>
<line x1="1570.1" y1="63.6" x2="1570.1" y2="1512.5"/>
</g>
<g fill="#000">
<line x1="443.0" y1="341.5" x2="520.1" y2="99.3" stroke="#000" stroke-width="5.2"/><polygon points="534.0,55.5 531.2,102.9 508.9,95.8"/>
<line x1="712.1" y1="229.2" x2="670.5" y2="103.9" stroke="#000" stroke-width="5.2"/><polygon points="656.0,60.2 681.6,100.2 659.3,107.6"/>
<line x1="1304.7" y1="250.2" x2="1043.1" y2="87.8" stroke="#000" stroke-width="5.2"/><polygon points="1004.0,63.5 1049.3,77.8 1036.9,97.7"/>
<rect x="445" y="554.4" width="1097" height="2.6" fill="#ccc"/>
<rect x="445" y="564.6" width="1097" height="3.4" fill="#bbb"/>
<rect x="445" y="556.8" width="1097" height="8"/>
<polygon points="408.5,561.3 448.5,541 448.5,581.6"/>
<polygon points="1580.4,561.3 1538.4,541 1538.4,581.6"/>
</g>
<g stroke-width="10.6" stroke-linecap="round" fill="none">
<line x1="1170" y1="963" x2="1318" y2="963" stroke="#ff0000"/>
<line x1="1170" y1="1081.3" x2="1318" y2="1081.3" stroke="#00ff00"/>
<line x1="1170" y1="1199.2" x2="1318" y2="1199.2" stroke="#0000ff"/>
</g>
<text class="b" transform="translate(97.0 1518.81) rotate(-90) scale(1.0066 1)">Absorption/Transmission/Reflection</text>
<text class="gt" transform="translate(1268.5 683.6) scale(1 0.81)">＞</text>
</svg></body></html>
